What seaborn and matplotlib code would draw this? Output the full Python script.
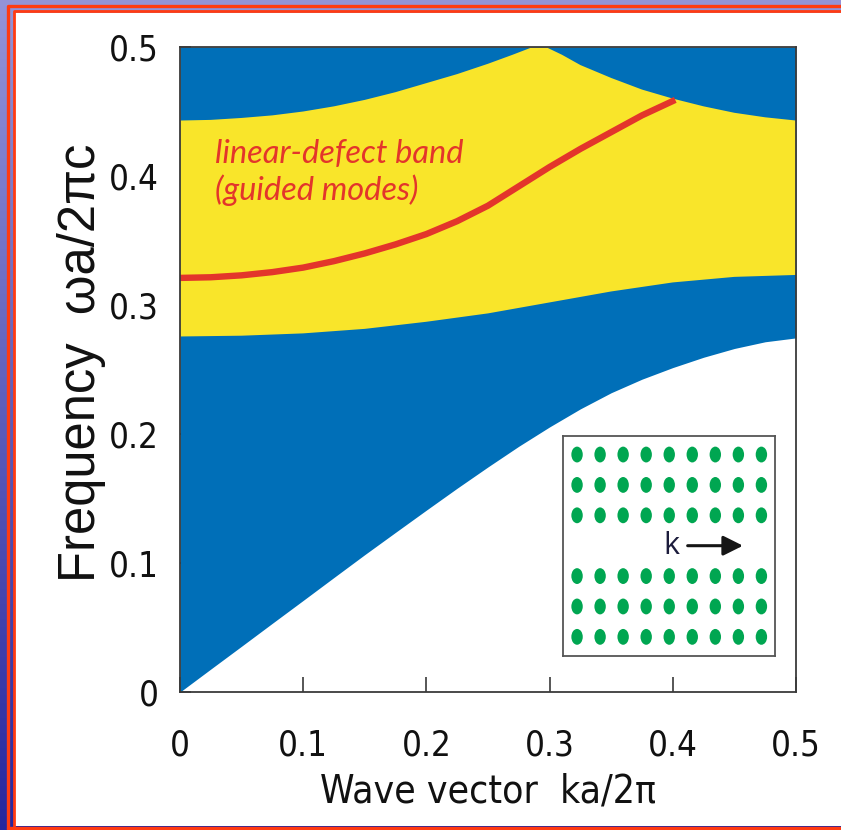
import numpy as np
import pandas as pd
import matplotlib
matplotlib.use("Agg")
import matplotlib.pyplot as plt
from matplotlib import font_manager
from matplotlib.font_manager import FontProperties
from matplotlib.path import Path
from matplotlib.patches import Rectangle
from matplotlib.lines import Line2D
import seaborn as sns

# ---- band-structure data (wave vector ka/2pi, frequency wa/2pic) ----
# light line: lower edge of the guided (blue) continuum
k_light = [0.0, 0.025, 0.05, 0.075, 0.1, 0.125, 0.15, 0.175, 0.2, 0.225, 0.25,
           0.275, 0.3, 0.325, 0.35, 0.375, 0.4, 0.425, 0.45, 0.475, 0.5]
f_light = [0.0, 0.0178, 0.0355, 0.0533, 0.071, 0.0888, 0.1065, 0.1238, 0.141, 0.158, 0.1745,
           0.1905, 0.2055, 0.2195, 0.232, 0.2425, 0.2515, 0.2595, 0.2663, 0.2715, 0.2745]

# lower edge of the photonic band gap
k_gap_lo = [0.0, 0.05, 0.1, 0.15, 0.2, 0.25, 0.3, 0.35, 0.4, 0.45, 0.5]
f_gap_lo = [0.2756, 0.2762, 0.278, 0.2815, 0.287, 0.2935, 0.302, 0.3105, 0.3175, 0.3218, 0.3233]

# upper edge of the photonic band gap
k_gap_hi = [0.0, 0.025, 0.05, 0.075, 0.1, 0.125, 0.15, 0.175, 0.2, 0.225, 0.25,
            0.27, 0.285, 0.298, 0.31, 0.325, 0.35, 0.375, 0.4, 0.425, 0.45, 0.475, 0.5]
f_gap_hi = [0.443, 0.4435, 0.445, 0.447, 0.45, 0.454, 0.459, 0.465, 0.472, 0.479, 0.487,
            0.494, 0.4995, 0.4995, 0.494, 0.486, 0.476, 0.467, 0.46, 0.454, 0.449, 0.4455, 0.443]

# linear-defect (waveguide) band
k_defect = [0.0, 0.025, 0.05, 0.075, 0.1, 0.125, 0.15, 0.175, 0.2, 0.225, 0.25,
            0.275, 0.3, 0.325, 0.35, 0.375, 0.402]
f_defect = [0.321, 0.3215, 0.323, 0.3255, 0.329, 0.334, 0.340, 0.347, 0.355, 0.365, 0.377,
            0.392, 0.407, 0.421, 0.434, 0.447, 0.459]

x_ticks = [0.0, 0.1, 0.2, 0.3, 0.4, 0.5]
x_tick_labels = ["0", "0.1", "0.2", "0.3", "0.4", "0.5"]
y_ticks = [0.0, 0.1, 0.2, 0.3, 0.4, 0.5]
y_tick_labels = ["0", "0.1", "0.2", "0.3", "0.4", "0.5"]

# inset lattice: columns and rows of rods (row 3 is removed -> line defect)
lattice_cols = [0, 1, 2, 3, 4, 5, 6, 7, 8]
lattice_rows = [0, 1, 2, 4, 5, 6]

BLUE = "#006fb8"
YELLOW = "#f9e52a"
RED = "#e3352b"
GREEN = "#00a651"
FRAME = "#3a3a3a"

sns.set_theme(style="white")
plt.rcParams["font.family"] = ["Liberation Sans", "DejaVu Sans"]


def narrow_font(size):
    """Pick an installed condensed sans face if there is one."""
    cands = []
    for f in font_manager.fontManager.ttflist:
        nm = f.name.lower()
        st = str(f.stretch).lower()
        if f.style != "normal" or f.weight not in (400, "normal", "regular"):
            continue
        if "narrow" in nm or "condensed" in nm or st in ("condensed", "semi-condensed", "extra-condensed"):
            if "sans" in nm or "roboto" in nm or "open" in nm:
                cands.append(f)
    cands.sort(key=lambda f: ("liberation" not in f.name.lower(), "dejavu" not in f.name.lower()))
    if cands:
        return FontProperties(fname=cands[0].fname, size=size)
    return FontProperties(family="Liberation Sans", size=size * 0.85)


W, H = 841, 830
fig = plt.figure(figsize=(W / 100, H / 100), dpi=100)

# ---- slide background: blue gradient, orange-red rules, white panel ----
bg = fig.add_axes([0, 0, 1, 1], zorder=-10)
yy = np.linspace(0, 1, H)[:, None, None]
top_c = np.array([0.58, 0.58, 0.85])
bot_c = np.array([0.15, 0.15, 0.62])
grad = top_c * (1 - yy) + bot_c * yy
grad = np.broadcast_to(grad, (H, W, 3))
bg.imshow(grad, extent=[0, W, H, 0], aspect="auto", interpolation="bilinear")
bg.set_xlim(0, W)
bg.set_ylim(H, 0)
bg.axis("off")
bg.add_patch(Rectangle((15.5, 13), W, 813, facecolor="white", edgecolor="none"))
rule = "#ff3b12"
bg.add_line(Line2D([8.5, 8.5, W], [H, 6, 6], color=rule, lw=2.4))
bg.add_line(Line2D([14, 14, W], [H, 11.5, 11.5], color=rule, lw=2.0))
bg.add_line(Line2D([8.5, W], [827.5, 827.5], color=rule, lw=2.4))

# ---- main band diagram ----
ax = fig.add_axes([180 / W, 1 - 692 / H, 616 / W, 645 / H])
ax.set_facecolor("white")
ax.fill_between(k_light, f_light, 0.5, color=BLUE, lw=0, zorder=1)
ax.fill(np.r_[k_gap_lo, k_gap_hi[::-1]], np.r_[f_gap_lo, f_gap_hi[::-1]],
        color=YELLOW, lw=0, zorder=2)
sns.lineplot(x=k_defect, y=f_defect, ax=ax, color=RED, lw=4.6, sort=False,
             solid_capstyle="butt", zorder=3)

ax.text(0.0285, 0.429, "linear-defect band\n(guided modes)", color=RED,
        fontsize=23.5, style="italic", family=["Lato", "DejaVu Sans"],
        ha="left", va="top", linespacing=1.22, zorder=4)

ax.set_xlim(0, 0.5)
ax.set_ylim(0, 0.5)
ax.set_xticks(x_ticks)
ax.set_xticklabels(x_tick_labels)
ax.set_yticks(y_ticks)
ax.set_yticklabels(y_tick_labels)
tick_fp = narrow_font(25)
for lab in ax.get_xticklabels() + ax.get_yticklabels():
    lab.set_fontproperties(tick_fp)
    lab.set_color("#111111")
ax.tick_params(axis="x", direction="in", length=11, width=1.2, color=FRAME, pad=26, bottom=True)
ax.tick_params(axis="y", direction="in", length=8, width=1.2, color=FRAME, pad=15, left=True)
for s in ax.spines.values():
    s.set_color(FRAME)
    s.set_linewidth(1.3)
    s.set_zorder(5)

ax.set_xlabel("Wave vector  ka/2\u03c0", fontproperties=narrow_font(28), color="#111111")
ax.set_ylabel("Frequency  \u03c9a/2\u03c0c", fontsize=36.5, color="#111111")
ax.xaxis.set_label_coords(0.5, -0.125)
ax.yaxis.set_label_coords(-0.12, 0.51)

# ---- inset: rod lattice with a missing row ----
axi = fig.add_axes([563 / W, 1 - 656 / H, 212 / W, 220 / H])
lattice = pd.DataFrame([(c, r) for r in lattice_rows for c in lattice_cols], columns=["col", "row"])
circ = Path.unit_circle()
rod = Path(circ.vertices * np.array([0.72, 1.0]), circ.codes)
sns.scatterplot(data=lattice, x="col", y="row", ax=axi, marker=rod, s=130,
                color=GREEN, edgecolor="none", linewidth=0, legend=False)
axi.text(4.1, 3.0, "k", fontsize=22, color="#1c1c3c", ha="center", va="center",
         family=["Open Sans", "DejaVu Sans"])
axi.annotate("", xy=(7.2, 3.0), xytext=(4.8, 3.0),
             arrowprops=dict(arrowstyle="-|>", color="#151515", lw=2.2, mutation_scale=30,
                             shrinkA=0, shrinkB=0))
axi.set_xlim(-0.61, 8.59)
axi.set_ylim(-0.63, 6.61)
axi.set_xticks([])
axi.set_yticks([])
axi.set_xlabel("")
axi.set_ylabel("")
axi.set_facecolor("white")
for s in axi.spines.values():
    s.set_visible(True)
    s.set_color("#555555")
    s.set_linewidth(1.3)

fig.savefig("out.png", dpi=100)
